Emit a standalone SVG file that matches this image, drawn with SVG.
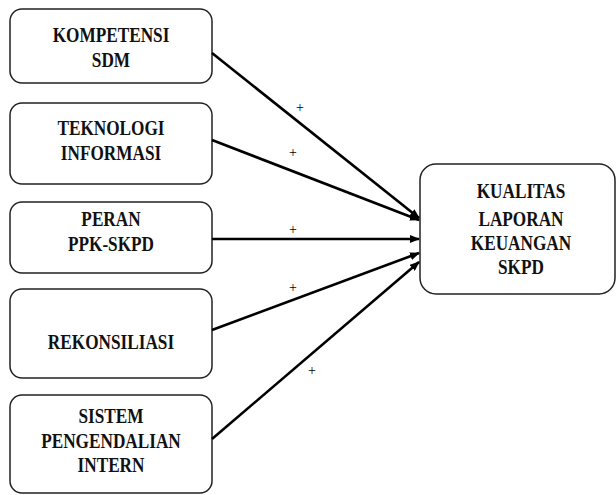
<svg xmlns="http://www.w3.org/2000/svg" width="616" height="495" viewBox="0 0 616 495">
<defs>
<marker id="ah" markerWidth="10" markerHeight="8" refX="9" refY="4" orient="auto" markerUnits="userSpaceOnUse">
<path d="M0,0 L10,4 L0,8 z" fill="#000"/>
</marker>
<style>
.box{fill:#fff;stroke:#222;stroke-width:1.5}
.t{font-family:"Liberation Serif","Times New Roman",serif;font-weight:bold;font-size:21px;fill:#111;text-anchor:middle}
.c{stroke:#000;stroke-width:2.6;fill:none;marker-end:url(#ah)}
.p{font-family:"Liberation Serif","Times New Roman",serif;font-size:14px;fill:#000;text-anchor:middle}
</style>
</defs>
<rect width="616" height="495" fill="#fff"/>
<g id="n1">
<rect class="box" x="10" y="9" width="202" height="74" rx="12"/>
<text class="t" transform="translate(111,42) scale(0.82,1.04)">KOMPETENSI</text>
<text class="t" transform="translate(111,67) scale(0.82,1.04)">SDM</text>
</g>
<g id="n2">
<rect class="box" x="10" y="103" width="202" height="81" rx="12"/>
<text class="t" transform="translate(111,135) scale(0.82,1.04)">TEKNOLOGI</text>
<text class="t" transform="translate(111,160) scale(0.82,1.04)">INFORMASI</text>
</g>
<g id="n3">
<rect class="box" x="10" y="202" width="202" height="71" rx="12"/>
<text class="t" transform="translate(111,226) scale(0.82,1)">PERAN</text>
<text class="t" transform="translate(111,251) scale(0.82,1)">PPK-SKPD</text>
</g>
<g id="n4">
<rect class="box" x="10" y="289" width="202" height="89" rx="12"/>
<text class="t" transform="translate(111,349) scale(0.82,1.04)">REKONSILIASI</text>
</g>
<g id="n5">
<rect class="box" x="10" y="395" width="202" height="98" rx="12"/>
<text class="t" transform="translate(111,423) scale(0.82,1)">SISTEM</text>
<text class="t" transform="translate(111,448) scale(0.82,1)">PENGENDALIAN</text>
<text class="t" transform="translate(111,472) scale(0.82,1)">INTERN</text>
</g>
<g id="n6">
<rect class="box" x="420" y="164" width="195" height="130" rx="16"/>
<text class="t" transform="translate(521,198) scale(0.82,1)">KUALITAS</text>
<text class="t" transform="translate(521,226) scale(0.82,1)">LAPORAN</text>
<text class="t" transform="translate(521,250) scale(0.82,1)">KEUANGAN</text>
<text class="t" transform="translate(521,274) scale(0.82,1)">SKPD</text>
</g>
<g id="connectors">
<line class="c" x1="212" y1="53" x2="419" y2="218"/>
<line class="c" x1="212" y1="140" x2="419" y2="220"/>
<line class="c" x1="212" y1="239" x2="419" y2="239"/>
<line class="c" x1="212" y1="330" x2="419" y2="253"/>
<line class="c" x1="212" y1="439" x2="419" y2="262"/>
<text class="p" x="300" y="112">+</text>
<text class="p" x="293" y="157">+</text>
<text class="p" x="293" y="234">+</text>
<text class="p" x="293" y="292">+</text>
<text class="p" x="312" y="375">+</text>
</g>
</svg>
